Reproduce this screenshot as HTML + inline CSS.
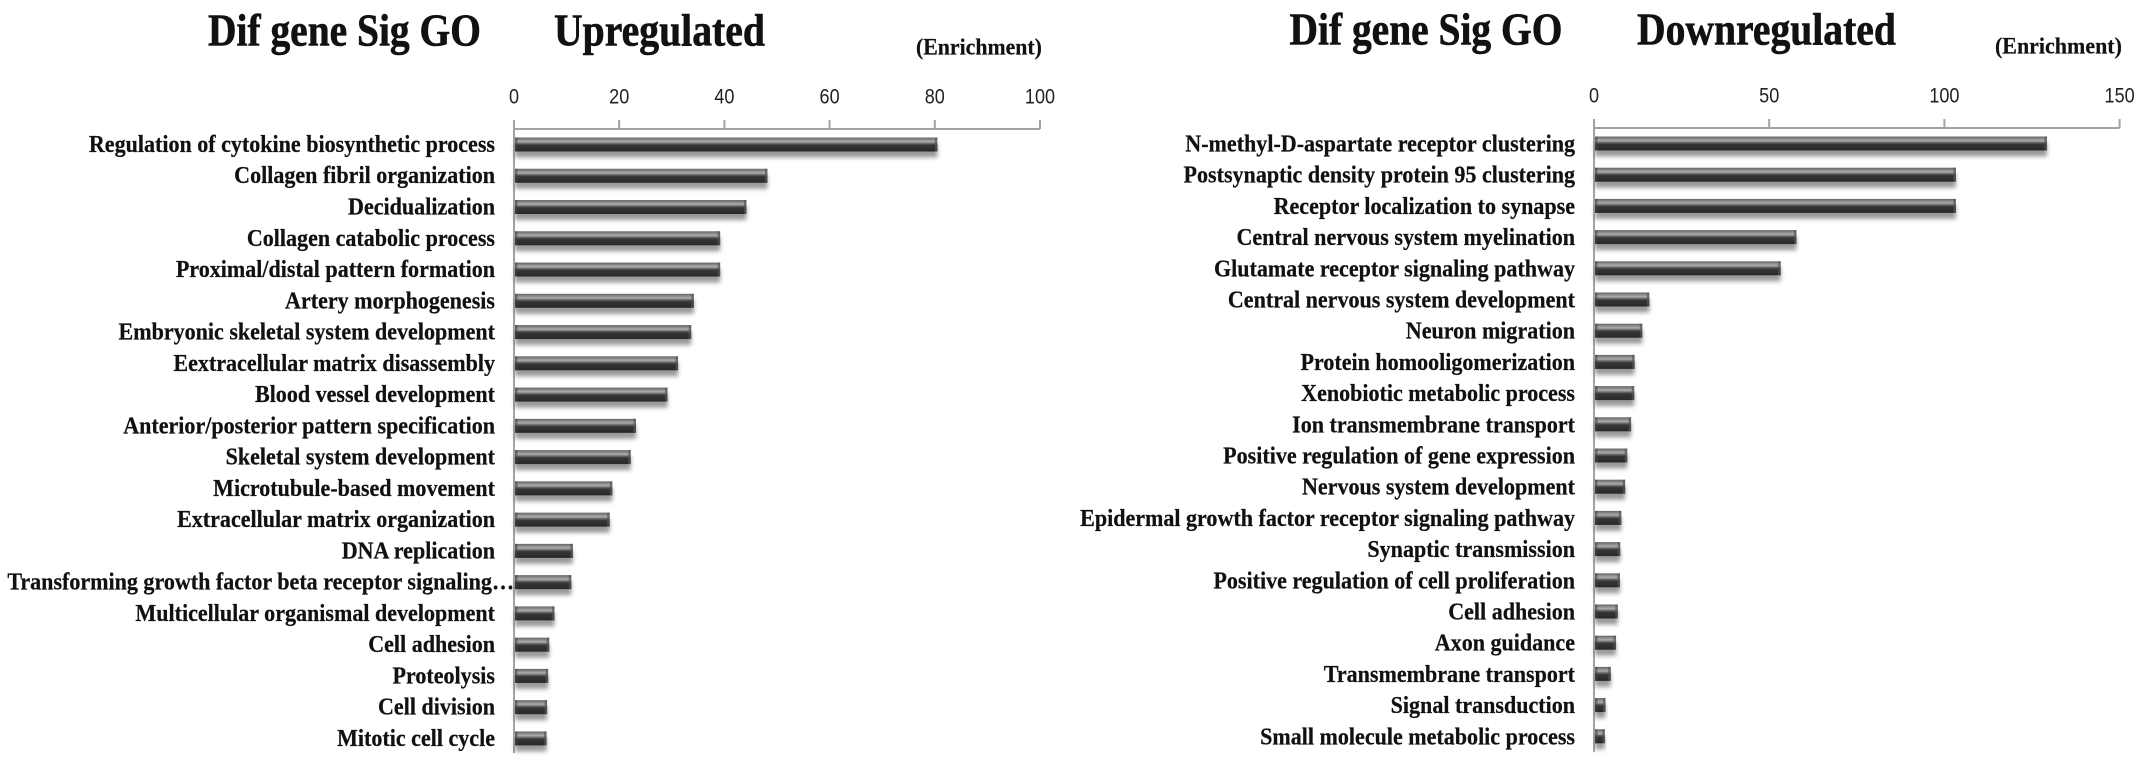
<!DOCTYPE html>
<html lang="en">
<head>
<meta charset="utf-8">
<title>Dif gene Sig GO</title>
<style>
html,body{margin:0;padding:0;background:#fff;width:2150px;height:771px;overflow:hidden}
svg{display:block}
.lab{font-family:"Liberation Serif",serif;font-weight:bold;font-size:24.5px;fill:#111;stroke:#111;stroke-width:0.25;text-anchor:end}
.title{font-family:"Liberation Serif",serif;font-weight:bold;font-size:45px;fill:#111;stroke:#111;stroke-width:0.6}
.unit{font-family:"Liberation Serif",serif;font-weight:bold;font-size:23px;fill:#111;stroke:#111;stroke-width:0.2}
.tick{font-family:"Liberation Sans",sans-serif;font-size:21px;fill:#222;text-anchor:middle}
</style>
</head>
<body>
<svg id="chart" xmlns="http://www.w3.org/2000/svg" width="2150" height="771" viewBox="0 0 2150 771">
  <defs>
    <linearGradient id="barFill" x1="0" y1="0" x2="0" y2="1">
      <stop offset="0" stop-color="#666"/>
      <stop offset="0.14" stop-color="#858585"/>
      <stop offset="0.3" stop-color="#adadad"/>
      <stop offset="0.44" stop-color="#666"/>
      <stop offset="0.55" stop-color="#363636"/>
      <stop offset="1" stop-color="#282828"/>
    </linearGradient>
    <filter id="barShadow" x="-20%" y="-50%" width="140%" height="250%">
      <feGaussianBlur stdDeviation="2.2"/>
    </filter>
  </defs>
  <g id="left-panel"></g>
  <g id="right-panel"></g>
</svg>
<script>
const upCategories = ["Regulation of cytokine biosynthetic process","Collagen fibril organization","Decidualization","Collagen catabolic process","Proximal/distal pattern formation","Artery morphogenesis","Embryonic skeletal system development","Eextracellular matrix disassembly","Blood vessel development","Anterior/posterior pattern specification","Skeletal system development","Microtubule-based movement","Extracellular matrix organization","DNA replication","Transforming growth factor beta receptor signaling…","Multicellular organismal development","Cell adhesion","Proteolysis","Cell division","Mitotic cell cycle"];
const upValues = [80.3,48,44,39,39,34,33.5,31,29,23,22,18.5,18,11,10.7,7.5,6.5,6.3,6.1,6];
const upTicks = [0,20,40,60,80,100];
const downCategories = ["N-methyl-D-aspartate receptor clustering","Postsynaptic density protein 95 clustering","Receptor localization to synapse","Central nervous system myelination","Glutamate receptor signaling pathway","Central nervous system development","Neuron migration","Protein homooligomerization","Xenobiotic metabolic process","Ion transmembrane transport","Positive regulation of gene expression","Nervous system development","Epidermal growth factor receptor signaling pathway","Synaptic transmission","Positive regulation of cell proliferation","Cell adhesion","Axon guidance","Transmembrane transport","Signal transduction","Small molecule metabolic process"];
const downValues = [129,103,103,57.5,53,15.5,13.5,11.3,11.2,10.3,9.2,8.6,7.5,7.2,7.1,6.5,6,4.5,3,2.8];
const downTicks = [0,50,100,150];

const NS = "http://www.w3.org/2000/svg";
function mk(parent, tag, attrs, text) {
  const el = document.createElementNS(NS, tag);
  for (const k in attrs) el.setAttribute(k, attrs[k]);
  if (text !== undefined) el.textContent = text;
  parent.appendChild(el);
  return el;
}
function fitText(el, width) {
  const w = el.getComputedTextLength();
  const x = +el.getAttribute("x"), y = +el.getAttribute("y");
  el.setAttribute("transform", "translate(" + x + " " + y + ") scale(" + (width / w) + " 1) translate(" + (-x) + " " + (-y) + ")");
}
function squeeze(el, s) {
  const x = el.getAttribute("x");
  el.setAttribute("transform", "translate(" + x + " 0) scale(" + s + " 1) translate(" + (-x) + " 0)");
}
function drawPanel(root, cfg) {
  const xScale = v => cfg.x0 + (v - cfg.ticks[0]) / (cfg.ticks[cfg.ticks.length - 1] - cfg.ticks[0]) * (cfg.x1 - cfg.x0);
  const yScale = i => cfg.yFirst + i * cfg.pitch;

  const t1 = mk(root, "text", {x: cfg.t1x, y: cfg.ty, class: "title"}, "Dif gene Sig GO");
  
  
  fitText(t1, cfg.t1w);
  const t2 = mk(root, "text", {x: cfg.t2x, y: cfg.ty, class: "title"}, cfg.direction);
  
  
  fitText(t2, cfg.t2w);
  const u = mk(root, "text", {x: cfg.ux, y: cfg.ty + 9, class: "unit"}, "(Enrichment)");
  
  
  fitText(u, cfg.uw);

  const axis = mk(root, "g", {stroke: "#a2a2a2", "stroke-width": 2, fill: "none"});
  
  
  mk(axis, "line", {x1: cfg.x0, x2: cfg.x1, y1: cfg.axisY, y2: cfg.axisY});
  mk(axis, "line", {x1: cfg.x0, x2: cfg.x0, y1: cfg.axisY - 9, y2: cfg.axisBottom});
  cfg.ticks.forEach(t => {
    const tickMark = mk(axis, "line", {x1: xScale(t), x2: xScale(t), y1: cfg.axisY - 9, y2: cfg.axisY});
    
    
    const lab = mk(root, "text", {x: xScale(t), y: cfg.axisY - 25.5, class: "tick"}, String(t));
    
    
    squeeze(lab, 0.86);
  });

  cfg.cats.forEach((c, i) => {
    const y = yScale(i);
    const ellipsis = c.endsWith("…");
    const lab = mk(root, "text", {x: ellipsis ? cfg.x0 : cfg.labelX, y: y + cfg.labelDy, class: "lab"}, c);
    
    
    squeeze(lab, cfg.labelScale);

    const w = xScale(cfg.vals[i]) - cfg.x0;
    const top = y - 7, h = 14;
    const bar = mk(root, "g", {});
    
    
    mk(bar, "rect", {x: cfg.x0 + 1, y: top + 6, width: w, height: h, fill: "#777", opacity: 0.75, filter: "url(#barShadow)"});
    mk(bar, "rect", {x: cfg.x0 + 1, y: top, width: w, height: h, fill: "url(#barFill)"});
    mk(bar, "rect", {x: cfg.x0 + 1, y: top, width: Math.min(2.5, w), height: h, fill: "#444", opacity: 0.55});
    mk(bar, "rect", {x: cfg.x0 + 1 + w - Math.min(2.5, w), y: top, width: Math.min(2.5, w), height: h, fill: "#555", opacity: 0.7});
  });
}
drawPanel(document.getElementById("left-panel"), {
  direction: "Upregulated", cats: upCategories, vals: upValues, ticks: upTicks,
  x0: 514, x1: 1040, axisY: 129, axisBottom: 753, yFirst: 144.5, pitch: 31.26,
  labelX: 495, labelScale: 0.9, labelDy: 7.5,
  t1x: 208, t1w: 273, t2x: 554, t2w: 211, ty: 45.5, ux: 916, uw: 126
});
drawPanel(document.getElementById("right-panel"), {
  direction: "Downregulated", cats: downCategories, vals: downValues, ticks: downTicks,
  x0: 1594, x1: 2119.6, axisY: 128, axisBottom: 752, yFirst: 143.5, pitch: 31.2,
  labelX: 1575, labelScale: 0.9, labelDy: 8,
  t1x: 1289.5, t1w: 273, t2x: 1637, t2w: 259, ty: 44.5, ux: 1995, uw: 127
});
</script>
</body>
</html>
